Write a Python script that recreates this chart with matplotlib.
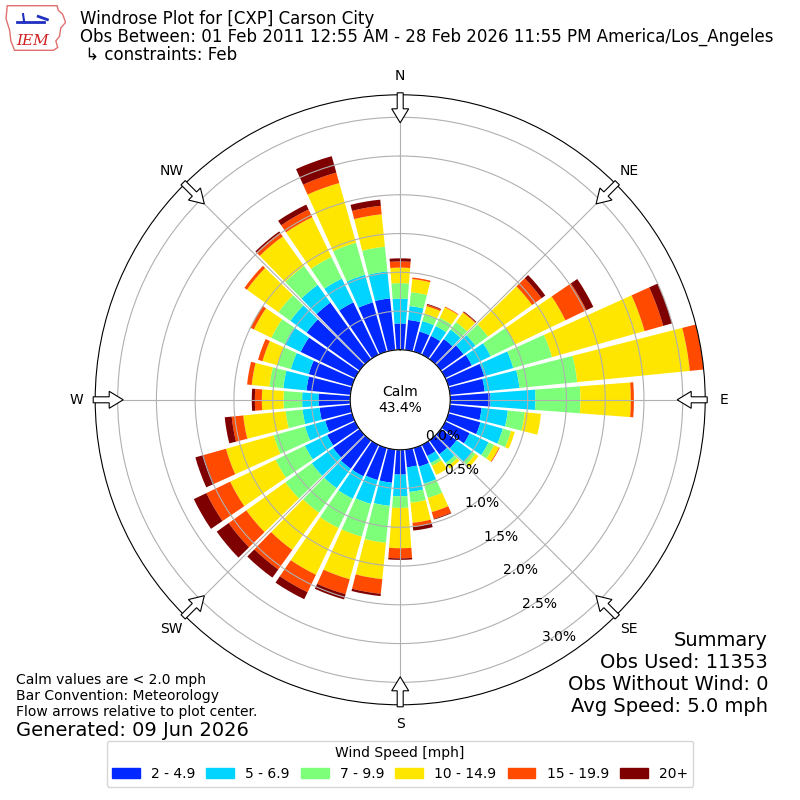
import numpy as np
import matplotlib
matplotlib.use("Agg")
import matplotlib.pyplot as plt
from matplotlib.patches import FancyArrow, Patch, Polygon

# wind direction (deg, from) and speed bins
directions = np.arange(0, 360, 10)
speed_bins = ["2 - 4.9", "5 - 6.9", "7 - 9.9", "10 - 14.9", "15 - 19.9", "20+"]
colors = ["#0028ff", "#00d4ff", "#7dff7a", "#ffe600", "#ff4a00", "#7f0000"]
cardinals = ["N", "NE", "E", "SE", "S", "SW", "W", "NW"]

# percent of observations per direction for each speed bin
spd_2 = [.34, .39, .27, .27, .32, .36, .38, .48, .45, .52, .41, .43, .35, .25, .22, .16, .25, .23,
         .32, .43, .43, .45, .45, .42, .40, .36, .40, .41, .57, .58, .78, .84, .90, .75, .66, .67]
spd_5 = [.32, .18, .14, .14, .15, .19, .27, .39, .45, .58, .34, .30, .27, .25, .14, .10, .23, .32,
         .28, .30, .32, .32, .31, .34, .32, .27, .22, .21, .30, .24, .23, .26, .28, .34, .37, .35]
spd_7 = [.20, .18, .10, .12, .12, .20, .35, .52, .75, .58, .22, .11, .08, .05, .05, .04, .19, .14,
         .15, .48, .44, .42, .39, .42, .42, .42, .22, .24, .18, .18, .19, .19, .30, .31, .43, .32]
spd_10 = [.20, .17, .10, .15, .15, .70, .72, 1.24, 1.46, .65, .21, .05, .07, .05, .04, .13, .19, .26,
          .52, .47, .57, .67, .59, .62, .65, .64, .55, .28, .23, .20, .25, .50, .47, .57, .80, .42]
spd_15 = [.08, .02, .02, .01, .01, .15, .30, .25, .18, .04, 0, 0, .01, 0, 0, 0, .09, .05,
          .13, .19, .20, .25, .31, .28, .34, .30, .15, .09, .06, .06, .05, .04, .06, .11, .14, .11]
spd_20 = [.04, 0, .01, 0, .01, .06, .10, .12, 0, 0, 0, 0, 0, 0, 0, 0, .01, .05,
          .02, .03, .07, .10, .13, .19, .18, .11, .09, .04, 0, 0, 0, 0, .02, .07, .22, .08]
series = [spd_2, spd_5, spd_7, spd_10, spd_15, spd_20]

calm_pct = 43.4
rticks = [0.0, 0.5, 1.0, 1.5, 2.0, 2.5, 3.0]

fig = plt.figure(figsize=(8, 8), dpi=100)
ax = fig.add_axes([0.119, 0.119, 0.7625, 0.7625], projection="polar")
ax.set_theta_zero_location("N")
ax.set_theta_direction(-1)

theta = np.deg2rad(directions)
bottom = np.zeros(len(directions))
for vals, col, lab in zip(series, colors, speed_bins):
    vals = np.array(vals)
    ax.bar(theta, vals, width=np.deg2rad(10) * 0.86, bottom=bottom,
           color=col, label=lab, linewidth=0)
    bottom += vals

rmax = bottom.max()
ax.set_ylim(0, rmax)
ax.set_rorigin(-rmax * 50 / 255)

ax.set_yticks(rticks)
ax.set_yticklabels([f"{t:.1f}%" for t in rticks], fontsize=10)
ax.set_rlabel_position(150)
ax.set_xticks(np.deg2rad(np.arange(0, 360, 45)))
ax.set_xticklabels(cardinals, fontsize=10)
ax.tick_params(axis="x", pad=3)

# flow arrows on the outer ring
for b in np.arange(0, 360, 45):
    v = np.array([np.sin(np.deg2rad(b)), np.cos(np.deg2rad(b))])
    tail = 0.5 + 0.5 * (307 / 305) * v
    tip = 0.5 + 0.5 * (277 / 305) * v
    ax.add_patch(FancyArrow(tail[0], tail[1], tip[0] - tail[0], tip[1] - tail[1],
                            width=6 / 610, head_width=17 / 610, head_length=14 / 610,
                            length_includes_head=True, transform=ax.transAxes,
                            fc="white", ec="black", lw=0.8, clip_on=False, zorder=5))

ax.text(0.5, 0.5, f"Calm\n{calm_pct}%", transform=ax.transAxes,
        ha="center", va="center", fontsize=10)

# header
fig.text(0.1, 1 - 19 / 800, "Windrose Plot for [CXP] Carson City", fontsize=12, va="center")
fig.text(0.1, 1 - 37 / 800,
         "Obs Between: 01 Feb 2011 12:55 AM - 28 Feb 2026 11:55 PM America/Los_Angeles",
         fontsize=12, va="center")
fig.text(0.1, 1 - 55 / 800, " \u21b3 constraints: Feb", fontsize=12, va="center")

# crude IEM logo
lax = fig.add_axes([0.006, 0.936, 0.076, 0.058])
lax.axis("off")
lax.set_xlim(0, 1)
lax.set_ylim(0, 1)
iowa = [(0.04, 0.98), (0.86, 0.98), (0.88, 0.88), (0.95, 0.80), (1.0, 0.62), (0.92, 0.50),
        (0.9, 0.32), (0.84, 0.22), (0.87, 0.08), (0.80, 0.02), (0.16, 0.02), (0.10, 0.22),
        (0.08, 0.45), (0.02, 0.70)]
lax.add_patch(Polygon(iowa, closed=True, fc="white", ec="#e07070", lw=1))
lax.plot([0.2, 0.65], [0.62, 0.62], color="#2030c0", lw=2)
lax.plot([0.3, 0.32], [0.8, 0.62], color="#2030c0", lw=1.5)
lax.plot([0.55, 0.7], [0.75, 0.68], color="#2030c0", lw=2)
lax.text(0.45, 0.22, "IEM", color="#d02020", fontsize=11, family="serif",
         style="italic", ha="center", va="center")

# footer texts
fig.text(0.02, 1 - 680 / 800, "Calm values are < 2.0 mph", fontsize=10, va="center")
fig.text(0.02, 1 - 696 / 800, "Bar Convention: Meteorology", fontsize=10, va="center")
fig.text(0.02, 1 - 712 / 800, "Flow arrows relative to plot center.", fontsize=10, va="center")
fig.text(0.02, 1 - 730 / 800, "Generated: 09 Jun 2026", fontsize=14, va="center")

summary = ["Summary", "Obs Used: 11353", "Obs Without Wind: 0", "Avg Speed: 5.0 mph"]
for i, s in enumerate(summary):
    fig.text(0.96, 1 - (640 + 22 * i) / 800, s, fontsize=14, ha="right", va="center")

handles = [Patch(color=c) for c in colors]
fig.legend(handles, speed_bins, loc="lower center", bbox_to_anchor=(0.5, 0.008),
           ncol=6, title="Wind Speed [mph]", fontsize=10, title_fontsize=10,
           columnspacing=0.8)

fig.savefig("out.png", dpi=100)
